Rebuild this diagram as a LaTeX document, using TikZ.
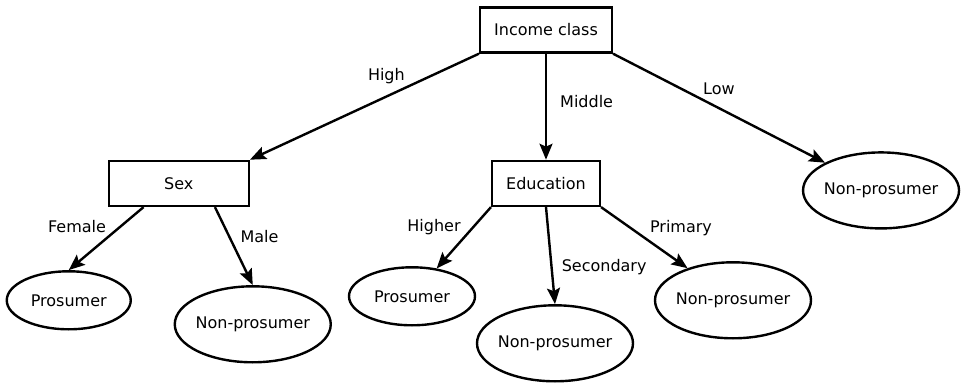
\documentclass[tikz,border=0pt]{standalone}
\usepackage{fontspec}
\setmainfont{DejaVu Sans}
\usetikzlibrary{positioning,shapes.geometric,arrows.meta}

\begin{document}
\begin{tikzpicture}[
  x=1pt, y=-1pt,
  box/.style={
    draw, line width=2.4pt, minimum height=45pt, inner xsep=14pt,
    font=\fontsize{16}{19}\selectfont
  },
  leaf/.style={
    draw, ellipse, line width=2.4pt, inner xsep=-4pt, inner ysep=0pt,
    minimum width=124pt, minimum height=58pt,
    font=\fontsize{16}{19}\selectfont
  },
  wideleaf/.style={leaf, minimum width=156pt, minimum height=76pt},
  lbl/.style={inner sep=2pt, font=\fontsize{16}{19}\selectfont},
  arr/.style={-{Stealth[length=16pt, width=13pt, inset=3pt]}, line width=2.4pt}
]
\useasboundingbox (0,0) rectangle (964,385);
\node[box] (inc) at (546,30) {Income class};
\node[box, below=106pt of inc] (edu) {Education};
\node[box, minimum width=140pt, below left=106pt and 229pt of inc] (sex) {Sex};
\node[wideleaf, below right=109pt and 212pt of inc] (low) {Non-prosumer};
\node[leaf, below=63pt of sex, xshift=-110pt] (fem) {Prosumer};
\node[wideleaf, below=78pt of sex, xshift=74pt] (male) {Non-prosumer};
\node[leaf, minimum width=126pt, below=59pt of edu, xshift=-134pt] (high) {Prosumer};
\node[wideleaf, below=97pt of edu, xshift=9pt] (sec) {Non-prosumer};
\node[wideleaf, below=54pt of edu, xshift=187pt] (prim) {Non-prosumer};
\draw[arr] (inc.south west) -- node[lbl, pos=0.31, above left] {High} (sex.north east);
\draw[arr] (inc.south) -- node[lbl, pos=0.45, right=11pt] {Middle} (edu.north);
\draw[arr] (inc.south east) -- node[lbl, pos=0.41, above right] {Low} (low.north west);
\draw[arr] ([xshift=36pt]sex.south west) -- node[lbl, pos=0.46, above left] {Female} (fem.north);
\draw[arr] ([xshift=-35pt]sex.south east) -- node[lbl, pos=0.38, right=8pt] {Male} (male.north);
\draw[arr] (edu.south west) -- node[lbl, pos=0.5, above left] {Higher} (high);
\draw[arr] (edu.south) -- node[lbl, pos=0.62, right=7pt] {Secondary} (sec.north);
\draw[arr] (edu.south east) -- node[lbl, pos=0.53, above right] {Primary} (prim);
\end{tikzpicture}
\end{document}
